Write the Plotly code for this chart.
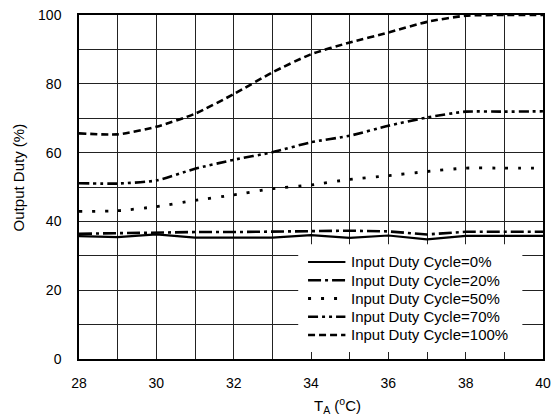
import plotly.graph_objects as go

# Ambient temperature (°C)
temp_c = [28, 29, 30, 31, 32, 33, 34, 35, 36, 37, 38, 39, 40]

# Output duty (%) for each input duty cycle
duty_0 = [35.7, 35.4, 36.2, 35.3, 35.3, 35.3, 36.0, 35.2, 35.9, 34.8, 35.8, 35.8, 35.8]
duty_20 = [36.4, 36.6, 36.9, 36.9, 36.9, 37.0, 37.3, 37.3, 37.1, 36.2, 37.0, 37.0, 37.0]
duty_50 = [42.9, 43.1, 44.3, 46.1, 47.7, 49.5, 50.6, 52.2, 53.3, 54.5, 55.5, 55.5, 55.5]
duty_70 = [51.1, 51.0, 51.9, 55.3, 57.9, 60.1, 63.0, 64.9, 67.8, 70.2, 71.9, 71.9, 72.0]
duty_100 = [65.6, 65.3, 67.5, 71.3, 77.0, 83.3, 88.6, 92.0, 94.9, 98.0, 99.8, 100.0, 100.0]

series_names = [
    "Input Duty Cycle=0%",
    "Input Duty Cycle=20%",
    "Input Duty Cycle=50%",
    "Input Duty Cycle=70%",
    "Input Duty Cycle=100%",
]
series_values = [duty_0, duty_20, duty_50, duty_70, duty_100]

x_tick_vals = [28, 30, 32, 34, 36, 38, 40]
y_tick_vals = [0, 20, 40, 60, 80, 100]

styles = [
    dict(dash="solid", width=2.2, shape="linear"),
    dict(dash="13px,4px,3px,4px", width=2.6, shape="linear"),
    dict(dash="3px,10px", width=2.8, shape="spline"),
    dict(dash="10px,4px,3px,4px,3px,4px", width=2.6, shape="spline"),
    dict(dash="7px,4px", width=2.6, shape="spline"),
]

FONT = "Liberation Sans, Arial, sans-serif"
W, H = 558, 416
M_L, M_R, M_T, M_B = 79, 7, 14, 57
PW, PH = W - M_L - M_R, H - M_T - M_B


def px_x(px):
    """Horizontal page pixel -> paper fraction."""
    return (px - M_L) / PW


def px_y(py):
    """Vertical page pixel (from top) -> paper fraction."""
    return (H - M_B - py) / PH


fig = go.Figure()
for name, vals, st in zip(series_names, series_values, styles):
    fig.add_trace(go.Scatter(
        x=temp_c, y=vals, name=name, mode="lines", showlegend=False,
        line=dict(color="black", width=st["width"], dash=st["dash"],
                  shape=st["shape"], smoothing=0.6),
    ))

# Key box drawn over the grid, lower right of the plot
shapes = [dict(type="rect", xref="paper", yref="paper", layer="above",
               x0=px_x(302), x1=px_x(530), y0=px_y(352), y1=px_y(244),
               fillcolor="white", line=dict(width=0))]
annotations = []
row_top, row_step = 261.7, 18.3
for i, (name, st) in enumerate(zip(series_names, styles)):
    yy = px_y(row_top + i * row_step)
    shapes.append(dict(type="line", xref="paper", yref="paper", layer="above",
                       x0=px_x(312), x1=px_x(350), y0=yy, y1=yy,
                       line=dict(color="black", width=st["width"], dash=st["dash"])))
    annotations.append(dict(text=name, xref="paper", yref="paper",
                            x=px_x(354), y=yy, xanchor="left", yanchor="middle",
                            showarrow=False, font=dict(family=FONT, size=15)))

annotations += [
    dict(text="T<sub>A</sub> (<sup>o</sup>C)", xref="paper", yref="paper",
         x=0.557, y=-0.135, xanchor="center", yanchor="middle",
         showarrow=False, font=dict(family=FONT, size=15)),
    dict(text="Output Duty (%)", xref="paper", yref="paper",
         x=-0.13, y=0.527, xanchor="center", yanchor="middle",
         textangle=-90, showarrow=False, font=dict(family=FONT, size=15)),
]

fig.update_layout(
    width=W, height=H,
    margin=dict(l=M_L, r=M_R, t=M_T, b=M_B),
    paper_bgcolor="white", plot_bgcolor="white",
    font=dict(family=FONT, size=14, color="black"),
    showlegend=False,
    xaxis=dict(
        range=[28, 40], tickvals=x_tick_vals,
        showgrid=True, gridcolor="#222", gridwidth=1,
        minor=dict(dtick=1, showgrid=True, gridcolor="#222", gridwidth=1),
        showline=True, linecolor="black", linewidth=1.5, mirror=True,
        ticks="", ticklabelstandoff=10, zeroline=False,
        tickfont=dict(size=14),
    ),
    yaxis=dict(
        range=[0, 100], tickvals=y_tick_vals,
        showgrid=True, gridcolor="#222", gridwidth=1,
        minor=dict(dtick=10, showgrid=True, gridcolor="#222", gridwidth=1),
        showline=True, linecolor="black", linewidth=1.5, mirror=True,
        ticks="", ticklabelstandoff=13, zeroline=False,
        tickfont=dict(size=14),
    ),
    shapes=shapes,
    annotations=annotations,
)

fig.write_html("out.html")
